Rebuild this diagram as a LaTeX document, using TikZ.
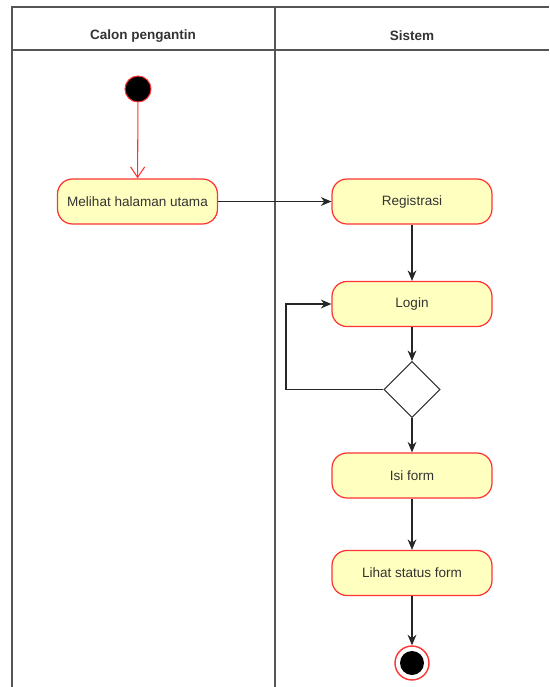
\documentclass[tikz,border=0pt]{standalone}
\usepackage{fontspec}
\setmainfont{Liberation Sans}
\usetikzlibrary{arrows.meta,shapes.geometric,positioning}

\definecolor{actfill}{HTML}{FFFFC0}
\definecolor{actline}{HTML}{FF3333}
\definecolor{lanegray}{HTML}{555555}
\definecolor{txtgray}{HTML}{333333}

\begin{document}
\begin{tikzpicture}[x=0.02cm, y=-0.02cm,
    activity/.style = {shape=rectangle, rounded corners=0.3cm,
      draw=actline, fill=actfill, line width=0.7pt,
      minimum width=3.2cm, minimum height=0.9cm,
      font=\fontsize{7.7}{9}\selectfont, text=txtgray},
    choice/.style = {shape=diamond, draw=black!80, fill=white,
      line width=0.6pt, minimum width=1.12cm, minimum height=1.12cm,
      inner sep=0pt},
    startdot/.style = {shape=circle, draw=actline, fill=black,
      line width=0.6pt, minimum size=0.52cm, inner sep=0pt},
    flow/.style = {draw=black!85, line width=0.6pt,
      -{Stealth[length=6pt,width=5pt]}},
    lanehead/.style = {font=\fontsize{7.7}{9}\selectfont\bfseries, text=txtgray},
    lane/.style = {draw=lanegray, line width=1pt}]

  \useasboundingbox (0,0) rectangle (549,687);

  % swimlanes
  \draw[lane] (549,7) -- (12,7) -- (12,687);
  \draw[lane] (12,50) -- (549,50);
  \draw[lane] (275,7) -- (275,687);
  \node[lanehead] (laneA) at (143,36) {Calon pengantin};
  \node[lanehead] (laneB) at (412,36) {Sistem};

  % nodes
  \node[startdot] (start) at (138,89) {};
  \node[activity] (melihat) at (137.5,201.5) {Melihat halaman utama};
  \node[activity] (registrasi) at (412,201.5) {Registrasi};
  \node[activity] (login) at (412,304) {Login};
  \node[choice] (cek) at (412,389.5) {};
  \node[activity] (isi) at (412,475.5) {Isi form};
  \node[activity] (status) at (412,573) {Lihat status form};
  \node[shape=circle, draw=actline, fill=white, line width=0.8pt,
        minimum size=0.68cm, inner sep=0pt] (stop) at (412,663) {};
  \node[shape=circle, fill=black, minimum size=0.48cm, inner sep=0pt]
        (stopdot) at (stop) {};
  \coordinate (balik) at (286,389.5);

  % connectors
  \draw[draw=actline, line width=0.6pt,
        -{Straight Barb[length=6pt,width=8pt]}] (start) -- (melihat);
  \draw[flow] (melihat) -- (registrasi);
  \draw[flow] (registrasi) -- (login);
  \draw[flow] (login) -- (cek);
  \draw[flow] (cek.west) -- (balik) |- (login.west);
  \draw[flow] (cek) -- (isi);
  \draw[flow] (isi) -- (status);
  \draw[flow] (status) -- (stop);
\end{tikzpicture}
\end{document}
